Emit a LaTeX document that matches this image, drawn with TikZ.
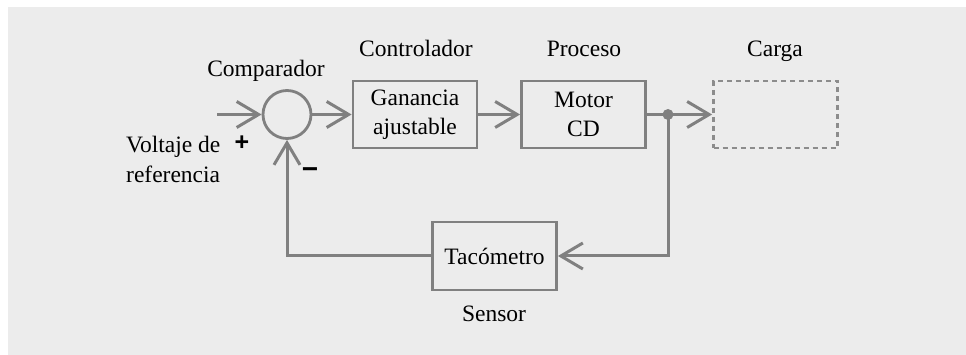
\documentclass[tikz,border=0pt]{standalone}
\usepackage{fontspec}
\setmainfont{Liberation Serif}
\newfontfamily\signfont{Liberation Sans}
\usetikzlibrary{arrows.meta}
\definecolor{bgc}{RGB}{236,236,236}
\definecolor{lc}{RGB}{128,128,128}
\definecolor{dc}{RGB}{140,140,140}
\begin{document}
\begin{tikzpicture}[x=1pt,y=-1pt,
  txt/.style={font=\fontsize{23.5}{29}\selectfont, inner sep=0pt},
  blk/.style={txt, draw=lc, line width=2.8pt, minimum width=124pt, minimum height=67pt, align=center},
  conn/.style={draw=lc, line width=3pt},
  arr/.style={conn, -{Straight Barb[length=22pt,width=26pt]}},
  sign/.style={font=\signfont\bfseries\fontsize{25}{25}\selectfont, inner sep=0pt},
]
\useasboundingbox (0,0) rectangle (966,355);
\fill[white] (0,0) rectangle (966,355);
\fill[bgc] (8,7) rectangle (966,355);

\node[draw=lc, line width=2.8pt, circle, minimum size=48pt, inner sep=0pt] (cmp) at (287,114.5) {};
\node[blk] (ctl) at (415,114.5) {Ganancia\\ajustable};
\node[blk] (mot) at (583.5,114.5) {Motor\\CD};
\node[blk, draw=dc, dash pattern=on 5pt off 4pt] (car) at (775.5,114.5) {};
\node[blk, minimum height=68pt] (tac) at (494.5,256) {Tacómetro};
\node[circle, fill=lc, minimum size=11pt, inner sep=0pt] (jn) at (668,114.5) {};
\coordinate (in) at (217,114.5);

\node[txt, anchor=base] (lcmp) at (266,77) {Comparador};
\node[txt, anchor=base] (lctl) at (416,57) {Controlador};
\node[txt, anchor=base] (lmot) at (584,57) {Proceso};
\node[txt, anchor=base] (lcar) at (775,57) {Carga};
\node[txt, anchor=base] (lsen) at (494,321) {Sensor};
\node[txt, font=\fontsize{23.5}{30}\selectfont, align=left, anchor=west] (lref) at (126,159) {Voltaje de\\referencia};
\node[sign] (plus) at (242,143) {+};
\node[sign, font=\signfont\bfseries\fontsize{28}{28}\selectfont] (minus) at (310,173) {−};

\draw[arr] (in) -- (cmp.west);
\draw[arr] (cmp.east) -- (ctl.west);
\draw[arr] (ctl.east) -- (mot.west);
\draw[conn] (mot.east) -- (jn.center);
\draw[arr] (jn.center) -- (car.west);
\draw[arr] (jn.center) |- (tac.east);
\draw[arr] (tac.west) -| (cmp.south);
\end{tikzpicture}
\end{document}
